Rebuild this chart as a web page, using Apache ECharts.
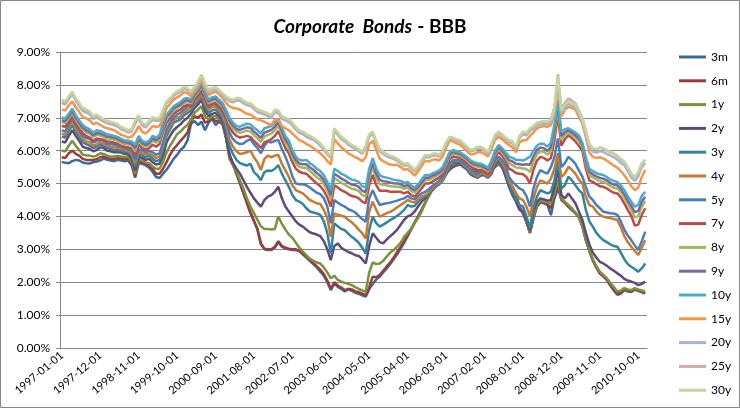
<!DOCTYPE html>
<html>
<head>
<meta charset="utf-8">
<script src="https://cdn.jsdelivr.net/npm/echarts@6/dist/echarts.min.js"></script>
<style>html,body{margin:0;padding:0;background:#fff}#chart{width:740px;height:408px}</style>
</head>
<body>
<div id="chart"></div>
<script>
// Monthly categories 1997-01 .. 2010-12
var categories = [];
for (var y = 1997; y <= 2010; y++) {
  for (var m = 1; m <= 12; m++) {
    categories.push(y + '-' + (m < 10 ? '0' + m : m) + '-01');
  }
}
var seriesNames = ['3m','6m','1y','2y','3y','4y','5y','7y','8y','9y','10y','15y','20y','25y','30y'];
var yTicks = [0,1,2,3,4,5,6,7,8,9];

var s3m = [
5.66,5.63,5.62,5.68,5.72,5.70,5.64,5.62,5.61,5.65,5.67,5.70,
5.76,5.72,5.70,5.68,5.72,5.70,5.68,5.70,5.55,5.18,5.62,5.60,
5.56,5.48,5.36,5.20,5.17,5.30,5.42,5.58,5.75,5.87,6.02,6.12,
6.32,6.82,6.90,6.78,6.88,6.62,6.84,6.98,6.78,6.88,6.80,6.40,
5.90,5.60,5.30,5.00,4.70,4.40,4.10,3.85,3.60,3.15,3.00,2.98,
2.98,3.05,3.22,3.08,3.02,3.00,2.98,2.98,2.95,2.85,2.75,2.65,
2.55,2.45,2.32,2.20,2.00,1.76,1.95,1.86,1.80,1.72,1.78,1.74,
1.68,1.65,1.60,1.56,1.78,1.95,2.08,2.17,2.30,2.42,2.55,2.70,
2.85,3.02,3.20,3.40,3.60,3.80,4.00,4.20,4.40,4.62,4.80,4.92,
5.05,5.18,5.30,5.42,5.50,5.55,5.58,5.50,5.45,5.42,5.40,5.38,
5.40,5.42,5.35,5.40,5.50,5.60,5.50,5.30,5.10,4.90,4.70,4.30,
4.10,3.85,3.50,3.95,4.30,4.42,4.40,4.35,4.04,4.55,4.85,4.50,
4.42,4.30,4.20,4.10,3.98,3.70,3.28,2.95,2.67,2.45,2.27,2.18,
2.07,1.90,1.75,1.62,1.65,1.76,1.72,1.70,1.78,1.74,1.70,1.66];

var s6m = [
5.80,5.78,5.92,6.00,5.90,5.85,5.75,5.72,5.72,5.72,5.74,5.80,
5.82,5.78,5.75,5.75,5.78,5.76,5.74,5.76,5.62,5.22,5.68,5.65,
5.60,5.55,5.45,5.30,5.30,5.45,5.65,5.88,6.05,6.17,6.30,6.42,
6.55,6.90,7.05,7.00,7.10,6.85,6.90,7.00,6.90,6.92,6.85,6.40,
5.85,5.58,5.30,5.02,4.72,4.42,4.12,3.88,3.62,3.18,3.02,3.00,
3.00,3.08,3.25,3.10,3.05,3.02,3.00,3.00,2.96,2.86,2.78,2.68,
2.58,2.48,2.38,2.25,2.05,1.80,2.00,1.90,1.84,1.76,1.80,1.78,
1.72,1.70,1.65,1.60,1.85,2.17,2.15,2.22,2.35,2.48,2.60,2.75,
2.92,3.08,3.25,3.45,3.62,3.82,4.00,4.20,4.42,4.62,4.80,4.92,
5.05,5.18,5.30,5.45,5.52,5.58,5.60,5.52,5.46,5.42,5.40,5.38,
5.40,5.42,5.35,5.40,5.52,5.62,5.50,5.28,5.05,4.85,4.62,4.25,
4.10,3.82,3.50,3.95,4.32,4.45,4.42,4.38,4.25,4.60,5.05,4.52,
4.42,4.30,4.20,4.10,3.98,3.70,3.28,2.95,2.67,2.45,2.27,2.18,
2.08,1.92,1.78,1.65,1.68,1.78,1.74,1.72,1.78,1.75,1.70,1.66];

var s1y = [
6.00,5.98,6.15,6.30,6.15,6.02,5.88,5.86,5.85,5.82,5.85,5.92,
5.90,5.85,5.82,5.82,5.84,5.82,5.80,5.82,5.68,5.30,5.75,5.70,
5.65,5.62,5.52,5.45,5.45,5.65,5.95,6.15,6.32,6.50,6.58,6.70,
6.78,6.95,7.15,7.25,7.35,7.05,6.95,7.05,7.05,6.98,6.90,6.40,
5.75,5.55,5.35,5.10,4.85,4.55,4.30,4.10,3.90,3.70,3.62,3.62,
3.60,3.62,4.00,3.78,3.60,3.45,3.35,3.20,3.05,2.93,2.82,2.72,
2.65,2.60,2.57,2.45,2.30,2.12,2.20,2.07,2.02,1.98,1.95,1.91,
1.85,1.80,1.75,1.71,2.30,2.60,2.55,2.57,2.65,2.78,2.90,2.98,
3.08,3.20,3.38,3.50,3.62,3.80,3.95,4.15,4.40,4.65,4.82,4.92,
5.02,5.15,5.32,5.48,5.58,5.62,5.62,5.52,5.45,5.38,5.35,5.30,
5.35,5.35,5.28,5.35,5.55,5.65,5.52,5.28,5.00,4.78,4.55,4.22,
4.15,3.85,3.52,4.00,4.35,4.48,4.45,4.42,4.40,4.70,5.12,4.55,
4.45,4.35,4.25,4.12,3.98,3.72,3.30,2.98,2.70,2.50,2.32,2.22,
2.12,1.98,1.85,1.72,1.75,1.82,1.78,1.76,1.82,1.78,1.75,1.71];

var s2y = [
6.28,6.25,6.45,6.62,6.45,6.30,6.12,6.08,6.05,5.98,6.02,6.10,
6.08,6.00,5.98,5.95,5.96,5.94,5.90,5.90,5.75,5.40,5.82,5.78,
5.72,5.75,5.65,5.58,5.60,5.85,6.25,6.45,6.62,6.72,6.80,6.92,
7.00,7.12,7.30,7.40,7.55,7.22,7.05,7.12,7.15,7.05,6.92,6.45,
5.85,5.62,5.45,5.30,5.10,4.90,4.72,4.55,4.42,4.30,4.50,4.60,
4.65,4.75,4.90,4.55,4.30,4.15,4.00,3.85,3.75,3.69,3.60,3.52,
3.48,3.45,3.40,3.25,3.00,2.67,3.10,3.18,3.05,2.98,2.92,2.88,
2.82,2.80,2.70,2.57,3.10,3.49,3.35,3.22,3.18,3.30,3.40,3.49,
3.60,3.75,3.90,4.00,4.05,4.15,4.30,4.45,4.55,4.70,4.82,4.90,
4.98,5.10,5.28,5.48,5.62,5.65,5.62,5.52,5.42,5.28,5.22,5.18,
5.25,5.25,5.18,5.30,5.58,5.70,5.55,5.22,4.90,4.65,4.45,4.20,
4.15,3.90,3.58,4.15,4.45,4.55,4.52,4.48,4.50,4.90,5.41,4.65,
4.55,4.70,4.55,4.40,4.15,3.90,3.50,3.15,2.90,2.75,2.62,2.57,
2.50,2.42,2.35,2.27,2.20,2.10,2.05,2.02,1.98,1.91,1.95,2.02];

var s3y = [
6.42,6.40,6.60,6.78,6.58,6.42,6.25,6.20,6.15,6.08,6.12,6.18,
6.15,6.08,6.05,6.02,6.02,6.00,5.96,5.95,5.85,5.52,5.90,5.85,
5.80,5.85,5.75,5.68,5.72,6.02,6.45,6.65,6.85,6.90,6.95,7.08,
7.15,7.22,7.40,7.50,7.65,7.35,7.15,7.22,7.25,7.15,7.02,6.65,
6.15,5.90,5.72,5.62,5.58,5.55,5.60,5.35,5.25,5.10,5.35,5.40,
5.38,5.45,5.56,5.30,5.10,4.90,4.65,4.50,4.45,4.38,4.25,4.15,
4.12,4.09,4.05,3.85,3.50,2.87,3.79,3.70,3.62,3.58,3.48,3.38,
3.30,3.20,3.05,2.87,3.60,3.99,3.80,3.69,3.75,3.82,3.89,3.95,
4.02,4.10,4.20,4.35,4.30,4.32,4.45,4.55,4.60,4.70,4.85,4.92,
4.98,5.08,5.30,5.52,5.65,5.68,5.65,5.55,5.45,5.32,5.25,5.18,
5.28,5.28,5.20,5.35,5.62,5.75,5.60,5.35,5.00,4.75,4.52,4.35,
4.30,4.00,3.65,4.25,4.60,4.80,4.75,4.70,4.75,5.10,5.71,4.85,
4.95,5.21,5.10,4.95,4.80,4.70,4.20,3.85,3.69,3.50,3.38,3.28,
3.22,3.15,3.10,3.08,2.90,2.70,2.55,2.47,2.40,2.32,2.42,2.57];

var s4y = [
6.52,6.48,6.70,6.88,6.68,6.52,6.35,6.28,6.25,6.15,6.20,6.25,
6.22,6.15,6.12,6.10,6.08,6.06,6.02,6.00,5.92,5.62,5.98,5.92,
5.88,5.92,5.85,5.78,5.82,6.15,6.55,6.75,6.92,7.00,7.05,7.15,
7.25,7.32,7.48,7.58,7.72,7.45,7.25,7.32,7.35,7.22,7.10,6.80,
6.35,6.12,5.98,5.90,5.92,5.95,6.00,5.80,5.65,5.41,5.75,5.85,
5.80,5.85,5.87,5.60,5.41,5.20,4.95,4.80,4.75,4.70,4.60,4.50,
4.45,4.40,4.38,4.20,3.95,3.38,4.09,4.05,4.02,3.99,3.90,3.82,
3.72,3.60,3.49,3.33,4.15,4.45,4.20,3.99,4.05,4.10,4.14,4.20,
4.28,4.35,4.42,4.50,4.45,4.42,4.52,4.60,4.65,4.72,4.85,4.95,
5.02,5.12,5.35,5.58,5.70,5.70,5.68,5.58,5.48,5.38,5.30,5.22,
5.32,5.30,5.22,5.40,5.68,5.78,5.65,5.45,5.10,4.88,4.70,4.55,
4.50,4.30,4.00,4.55,4.90,5.10,5.05,5.00,5.15,5.45,5.92,5.20,
5.30,5.51,5.42,5.30,5.12,5.00,4.60,4.35,4.30,4.15,4.05,3.99,
3.97,3.95,3.92,3.89,3.68,3.40,3.22,3.08,2.95,2.83,3.05,3.28];

var s5y = [
6.62,6.58,6.80,6.98,6.78,6.62,6.45,6.38,6.35,6.25,6.30,6.32,
6.30,6.22,6.20,6.18,6.15,6.12,6.08,6.05,6.00,5.72,6.05,6.00,
5.95,6.00,5.95,5.88,5.92,6.25,6.65,6.85,7.00,7.10,7.15,7.25,
7.35,7.40,7.55,7.65,7.80,7.55,7.32,7.40,7.42,7.30,7.18,6.95,
6.55,6.35,6.25,6.20,6.22,6.30,6.35,6.20,6.08,5.92,6.15,6.28,
6.25,6.30,6.32,6.05,5.82,5.55,5.22,5.00,4.98,4.98,4.95,4.88,
4.80,4.72,4.68,4.55,4.30,3.79,4.50,4.42,4.35,4.30,4.22,4.18,
4.12,4.02,3.92,3.84,4.55,4.80,4.55,4.35,4.38,4.40,4.42,4.45,
4.48,4.52,4.55,4.62,4.55,4.52,4.62,4.70,4.75,4.82,4.92,5.00,
5.08,5.18,5.40,5.62,5.72,5.72,5.70,5.62,5.52,5.42,5.35,5.28,
5.38,5.35,5.28,5.45,5.72,5.82,5.72,5.55,5.20,5.05,4.95,4.85,
4.80,4.62,4.30,4.85,5.20,5.41,5.35,5.30,5.50,5.80,6.37,5.50,
5.62,5.81,5.72,5.60,5.40,5.21,4.90,4.60,4.50,4.35,4.25,4.14,
4.12,4.10,4.09,4.05,3.85,3.60,3.42,3.28,3.12,2.98,3.25,3.54];

var s7y = [
6.75,6.73,6.87,7.03,6.83,6.67,6.53,6.45,6.40,6.30,6.37,6.35,
6.33,6.28,6.27,6.24,6.21,6.15,6.12,6.10,6.06,5.85,6.18,6.08,
6.03,6.08,6.18,6.12,6.20,6.58,6.85,6.98,7.12,7.20,7.25,7.35,
7.40,7.35,7.55,7.68,7.88,7.60,7.35,7.42,7.45,7.35,7.25,7.02,
6.72,6.55,6.45,6.40,6.42,6.45,6.42,6.30,6.20,6.08,6.25,6.30,
6.35,6.45,6.60,6.32,6.08,5.92,5.65,5.45,5.36,5.32,5.30,5.20,
5.10,5.00,4.92,4.78,4.58,4.30,4.95,4.88,4.80,4.75,4.68,4.62,
4.60,4.55,4.45,4.40,4.95,5.26,4.95,4.78,4.78,4.78,4.75,4.75,
4.75,4.75,4.70,4.75,4.65,4.60,4.72,4.85,5.00,5.00,5.05,5.12,
5.18,5.28,5.50,5.75,5.82,5.80,5.78,5.70,5.62,5.52,5.45,5.42,
5.40,5.35,5.28,5.50,5.80,5.96,5.85,5.70,5.45,5.40,5.32,5.30,
5.28,5.20,5.00,5.42,5.70,5.81,5.78,5.70,5.78,6.30,7.08,6.15,
6.35,6.47,6.38,6.28,6.15,6.00,5.45,5.10,5.05,4.98,4.92,4.90,
4.85,4.78,4.72,4.70,4.58,4.40,4.20,4.02,3.72,3.75,4.05,4.25];

var s8y = [
6.86,6.84,6.98,7.14,6.94,6.78,6.64,6.56,6.51,6.41,6.48,6.46,
6.42,6.37,6.36,6.33,6.30,6.24,6.21,6.19,6.15,5.99,6.30,6.17,
6.12,6.17,6.30,6.24,6.32,6.70,6.96,7.08,7.22,7.29,7.35,7.45,
7.49,7.44,7.64,7.77,7.95,7.69,7.44,7.51,7.54,7.44,7.34,7.12,
6.84,6.68,6.58,6.54,6.57,6.61,6.58,6.47,6.38,6.27,6.43,6.48,
6.52,6.62,6.76,6.48,6.24,6.08,5.81,5.61,5.51,5.48,5.48,5.38,
5.29,5.19,5.12,4.98,4.78,4.52,5.17,5.10,5.02,4.97,4.90,4.84,
4.82,4.77,4.65,4.61,5.17,5.48,5.17,4.98,4.96,4.95,4.92,4.91,
4.90,4.89,4.84,4.88,4.78,4.72,4.83,4.97,5.11,5.11,5.16,5.22,
5.27,5.37,5.59,5.84,5.91,5.88,5.85,5.78,5.70,5.60,5.54,5.51,
5.49,5.44,5.37,5.59,5.89,6.05,5.95,5.81,5.61,5.56,5.49,5.48,
5.46,5.44,5.35,5.67,5.89,5.99,5.96,5.88,5.98,6.52,7.28,6.33,
6.48,6.56,6.48,6.40,6.29,6.11,5.60,5.25,5.19,5.13,5.07,5.05,
5.00,4.93,4.87,4.85,4.74,4.57,4.38,4.20,3.97,4.01,4.30,4.47];

var s9y = [
6.92,6.90,7.04,7.20,7.00,6.84,6.70,6.62,6.57,6.47,6.54,6.52,
6.48,6.43,6.42,6.39,6.36,6.30,6.26,6.24,6.21,6.08,6.37,6.23,
6.18,6.23,6.37,6.32,6.40,6.77,7.03,7.15,7.28,7.35,7.41,7.51,
7.54,7.49,7.69,7.82,8.00,7.74,7.49,7.56,7.59,7.49,7.39,7.18,
6.92,6.76,6.66,6.63,6.67,6.71,6.69,6.58,6.49,6.39,6.55,6.59,
6.63,6.73,6.87,6.59,6.34,6.19,5.91,5.71,5.61,5.59,5.59,5.49,
5.42,5.32,5.24,5.11,4.91,4.65,5.30,5.23,5.15,5.10,5.03,4.97,
4.95,4.90,4.78,4.74,5.30,5.62,5.30,5.11,5.07,5.06,5.03,5.01,
5.00,4.98,4.92,4.96,4.86,4.80,4.90,5.04,5.18,5.18,5.23,5.28,
5.33,5.43,5.65,5.89,5.96,5.93,5.90,5.83,5.75,5.65,5.59,5.56,
5.54,5.49,5.42,5.64,5.94,6.11,6.01,5.88,5.71,5.67,5.60,5.59,
5.57,5.59,5.57,5.83,6.02,6.10,6.07,5.99,6.11,6.65,7.41,6.45,
6.56,6.62,6.55,6.47,6.37,6.18,5.70,5.35,5.28,5.22,5.17,5.15,
5.10,5.02,4.97,4.95,4.84,4.68,4.49,4.32,4.13,4.17,4.45,4.60];

var s10y = [
7.00,6.98,7.12,7.28,7.08,6.92,6.78,6.70,6.65,6.55,6.62,6.60,
6.55,6.50,6.48,6.45,6.42,6.36,6.32,6.30,6.28,6.18,6.45,6.30,
6.25,6.30,6.45,6.40,6.48,6.85,7.10,7.22,7.35,7.42,7.48,7.58,
7.60,7.55,7.75,7.88,8.05,7.80,7.55,7.62,7.65,7.55,7.45,7.25,
7.00,6.85,6.75,6.73,6.78,6.82,6.80,6.70,6.62,6.52,6.68,6.72,
6.75,6.85,6.98,6.70,6.45,6.30,6.02,5.82,5.72,5.70,5.72,5.62,
5.55,5.45,5.38,5.25,5.05,4.80,5.45,5.38,5.30,5.25,5.18,5.12,
5.10,5.05,4.92,4.88,5.45,5.77,5.45,5.25,5.20,5.18,5.15,5.12,
5.10,5.08,5.02,5.05,4.95,4.88,4.98,5.12,5.26,5.25,5.30,5.35,
5.40,5.50,5.72,5.95,6.02,5.98,5.95,5.88,5.80,5.70,5.65,5.62,
5.60,5.55,5.48,5.70,6.00,6.17,6.08,5.95,5.82,5.78,5.72,5.72,
5.70,5.75,5.82,6.00,6.15,6.22,6.20,6.12,6.25,6.80,7.55,6.58,
6.65,6.68,6.62,6.55,6.47,6.25,5.80,5.45,5.38,5.32,5.28,5.26,
5.20,5.12,5.08,5.05,4.95,4.80,4.62,4.45,4.30,4.35,4.62,4.75];

var s15y = [
7.25,7.22,7.38,7.50,7.32,7.18,7.02,6.98,6.92,6.80,6.85,6.78,
6.72,6.68,6.65,6.62,6.55,6.48,6.45,6.40,6.42,6.55,6.75,6.58,
6.52,6.62,6.75,6.72,6.75,7.00,7.30,7.42,7.55,7.62,7.68,7.78,
7.75,7.65,7.80,7.95,8.15,7.90,7.70,7.75,7.80,7.72,7.60,7.45,
7.35,7.30,7.28,7.25,7.18,7.12,7.10,7.02,6.95,6.92,6.88,6.82,
6.78,6.95,6.93,6.75,6.68,6.62,6.52,6.42,6.32,6.28,6.20,6.15,
6.08,6.00,5.92,5.82,5.68,5.58,6.35,6.22,6.10,6.02,5.92,5.86,
5.80,5.75,5.68,5.80,6.20,6.30,6.02,5.75,5.68,5.62,5.58,5.56,
5.57,5.50,5.42,5.44,5.34,5.24,5.37,5.54,5.69,5.67,5.72,5.74,
5.70,5.82,6.08,6.30,6.28,6.22,6.18,6.08,5.98,5.88,5.90,5.95,
5.95,5.90,5.82,6.05,6.32,6.42,6.35,6.25,6.17,6.10,5.95,6.25,
6.32,6.32,6.45,6.55,6.68,6.73,6.75,6.72,6.78,7.10,7.95,7.05,
7.25,7.33,7.30,7.25,7.02,6.83,6.40,5.95,5.81,5.78,5.80,5.76,
5.70,5.62,5.55,5.48,5.38,5.25,5.10,4.92,4.80,4.88,5.20,5.42];

var s20y = [
7.45,7.40,7.56,7.72,7.52,7.36,7.21,7.16,7.11,6.96,7.01,6.94,
6.88,6.83,6.81,6.78,6.73,6.65,6.61,6.55,6.58,6.82,6.98,6.77,
6.71,6.83,6.94,6.90,6.92,7.18,7.44,7.54,7.66,7.74,7.79,7.88,
7.84,7.74,7.89,8.04,8.25,7.99,7.79,7.84,7.87,7.78,7.68,7.57,
7.50,7.47,7.52,7.52,7.44,7.38,7.36,7.27,7.17,7.14,7.10,7.05,
7.00,7.17,7.14,6.97,6.92,6.87,6.77,6.64,6.54,6.50,6.42,6.37,
6.33,6.25,6.15,6.03,5.88,5.78,6.60,6.48,6.35,6.28,6.18,6.11,
6.05,5.98,5.90,6.08,6.43,6.51,6.23,5.98,5.90,5.83,5.78,5.75,
5.69,5.62,5.54,5.56,5.46,5.36,5.49,5.66,5.81,5.79,5.84,5.86,
5.82,5.95,6.19,6.37,6.35,6.30,6.27,6.17,6.07,5.97,6.00,6.06,
6.06,5.99,5.91,6.14,6.42,6.52,6.44,6.34,6.26,6.22,6.06,6.38,
6.50,6.47,6.60,6.67,6.77,6.80,6.82,6.80,6.86,7.20,8.15,7.15,
7.32,7.42,7.37,7.32,7.10,6.88,6.50,6.10,5.97,5.94,5.99,5.96,
5.90,5.85,5.80,5.73,5.63,5.56,5.38,5.18,5.08,5.22,5.50,5.62];

var s25y = [
7.50,7.46,7.61,7.77,7.57,7.42,7.27,7.22,7.17,7.02,7.07,6.99,
6.92,6.87,6.85,6.82,6.77,6.69,6.65,6.59,6.62,6.89,7.05,6.82,
6.75,6.87,6.99,6.95,6.97,7.22,7.48,7.58,7.70,7.78,7.83,7.92,
7.88,7.78,7.93,8.08,8.30,8.03,7.83,7.88,7.91,7.83,7.73,7.62,
7.55,7.52,7.57,7.57,7.49,7.43,7.41,7.32,7.22,7.19,7.15,7.10,
7.05,7.22,7.19,7.02,6.97,6.92,6.82,6.69,6.59,6.55,6.47,6.42,
6.37,6.29,6.19,6.07,5.92,5.82,6.65,6.52,6.39,6.32,6.22,6.15,
6.09,6.02,5.94,6.12,6.47,6.55,6.27,6.02,5.94,5.87,5.82,5.79,
5.72,5.65,5.57,5.59,5.49,5.39,5.52,5.69,5.84,5.82,5.87,5.89,
5.85,5.98,6.22,6.40,6.38,6.33,6.30,6.20,6.10,6.00,6.03,6.09,
6.10,6.03,5.95,6.18,6.46,6.56,6.48,6.38,6.30,6.26,6.10,6.43,
6.56,6.53,6.66,6.73,6.83,6.86,6.88,6.86,6.94,7.32,8.32,7.25,
7.46,7.58,7.52,7.45,7.22,6.99,6.60,6.19,6.06,6.04,6.09,6.06,
6.00,5.95,5.90,5.83,5.73,5.66,5.48,5.28,5.18,5.33,5.60,5.72];

var s30y = [
7.55,7.50,7.65,7.80,7.60,7.45,7.30,7.25,7.20,7.05,7.10,7.02,
6.95,6.90,6.88,6.85,6.80,6.72,6.68,6.62,6.65,6.92,7.08,6.85,
6.78,6.90,7.02,6.98,7.00,7.25,7.50,7.60,7.72,7.80,7.85,7.95,
7.90,7.80,7.95,8.10,8.30,8.05,7.85,7.90,7.93,7.85,7.75,7.65,
7.58,7.55,7.60,7.60,7.52,7.46,7.44,7.35,7.25,7.22,7.18,7.13,
7.08,7.25,7.22,7.05,7.00,6.95,6.85,6.72,6.62,6.58,6.50,6.45,
6.40,6.32,6.22,6.10,5.95,5.85,6.68,6.55,6.42,6.35,6.25,6.18,
6.12,6.05,5.97,6.15,6.50,6.58,6.30,6.05,5.97,5.90,5.85,5.82,
5.75,5.68,5.60,5.62,5.52,5.42,5.55,5.72,5.87,5.85,5.90,5.92,
5.87,6.00,6.25,6.42,6.40,6.35,6.32,6.22,6.12,6.02,6.05,6.12,
6.12,6.05,5.97,6.20,6.48,6.58,6.50,6.40,6.32,6.28,6.12,6.45,
6.58,6.55,6.68,6.75,6.85,6.88,6.90,6.88,6.95,7.30,8.25,7.23,
7.40,7.50,7.45,7.40,7.20,6.98,6.60,6.20,6.07,6.05,6.10,6.07,
6.02,5.97,5.92,5.85,5.75,5.68,5.50,5.30,5.20,5.35,5.62,5.72];

var seriesData = [s3m,s6m,s1y,s2y,s3y,s4y,s5y,s7y,s8y,s9y,s10y,s15y,s20y,s25y,s30y];
var colors = ['#3A6A9E','#9E3B38','#77933C','#604A7B','#31859C','#C77A34','#4A7EBB','#BE4B48',
              '#9BBB59','#8064A2','#4BACC6','#F79646','#A5B5CF','#D6A8A6','#C3D69B'];

var FONT = 'Lato, "Open Sans", sans-serif';
var chart = echarts.init(document.getElementById('chart'), null, {renderer: 'canvas'});
var series = seriesNames.map(function (n, k) {
  return {
    name: n, type: 'line', data: seriesData[k], symbol: 'none', showSymbol: false,
    lineStyle: {width: 2.5, color: colors[k]}, itemStyle: {color: colors[k]},
    emphasis: {disabled: true}
  };
});
chart.setOption({
  animation: false,
  backgroundColor: '#ffffff',
  title: {
    text: '{a|Corporate  Bonds} {b|- BBB}',
    left: 'center', top: 12,
    textStyle: {
      rich: {
        a: {fontFamily: FONT, fontSize: 19, fontWeight: 'bold', fontStyle: 'italic', color: '#000'},
        b: {fontFamily: FONT, fontSize: 19, fontWeight: 'bold', color: '#000'}
      }
    }
  },
  graphic: [{
    type: 'rect', silent: true,
    shape: {x: 0.5, y: 0.5, width: 739, height: 407},
    style: {fill: 'none', stroke: '#868686', lineWidth: 1}
  }],
  legend: {
    orient: 'vertical', left: 674, top: 45,
    icon: 'rect', itemWidth: 27, itemHeight: 3, itemGap: 9.8,
    textStyle: {fontFamily: FONT, fontSize: 12, color: '#000', lineHeight: 14},
    data: seriesNames
  },
  grid: {left: 60, right: 93, top: 52, bottom: 60, containLabel: false},
  xAxis: {
    type: 'category', data: categories, boundaryGap: true,
    axisLine: {lineStyle: {color: '#868686', width: 1}},
    axisTick: {interval: 10, length: 5, lineStyle: {color: '#868686'}},
    axisLabel: {interval: 10, rotate: 40, fontFamily: FONT, fontSize: 11, color: '#000', margin: 6}
  },
  yAxis: {
    type: 'value', min: yTicks[0], max: yTicks[yTicks.length - 1], interval: 1,
    axisLine: {show: true, lineStyle: {color: '#868686', width: 1}},
    axisTick: {show: true, length: 4, lineStyle: {color: '#868686'}},
    splitLine: {lineStyle: {color: '#868686', width: 1}},
    axisLabel: {fontFamily: FONT, fontSize: 12, color: '#000', margin: 10,
      formatter: function (v) { return v.toFixed(2) + '%'; }}
  },
  series: series
});
</script>
</body>
</html>
